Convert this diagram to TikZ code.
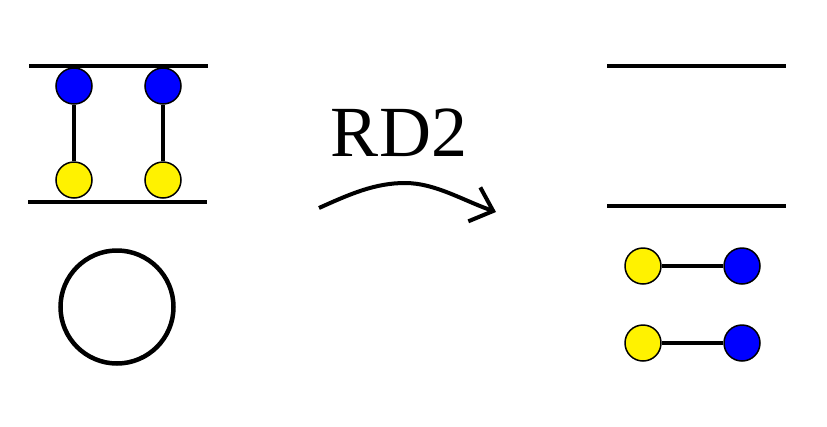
\documentclass[tikz,border=0pt]{standalone}
\usepackage{fontspec}
\setmainfont{Liberation Serif}
\usetikzlibrary{arrows.meta}

\begin{document}
\begin{tikzpicture}[
  x=1pt, y=-1pt,
  bead/.style={
    circle,
    draw,
    line width=1.5pt,
    minimum size=36pt,
    inner sep=0pt
  },
  up/.style={bead, fill=blue},
  down/.style={bead, fill=yellow},
  plate/.style={line width=4.5pt},
  link/.style={line width=4pt},
  arrow/.style={-{Straight Barb[length=20pt, width=36pt, line width=4pt]}, line width=4pt}
]
\useasboundingbox (0,0) rectangle (827,426);
% left: before
\coordinate (lt1) at (29,66);
\coordinate (lt2) at (208,66);
\coordinate (lb1) at (28,202);
\coordinate (lb2) at (207,202);
\draw[plate] (lt1) -- (lt2);
\draw[plate] (lb1) -- (lb2);
\node[up] (a1) at (74,86) {};
\node[up] (a2) at (163,86) {};
\node[down] (b1) at (74,180) {};
\node[down] (b2) at (163,180) {};
\draw[link] (a1) -- (b1);
\draw[link] (a2) -- (b2);
\node[circle, draw, line width=4.5pt, minimum size=113pt, inner sep=0pt] (ring) at (117,307) {};
% transition
\node[font=\fontsize{72}{72}\selectfont, inner sep=0pt] (label) at (399,133) {RD2};
\coordinate (s) at (319,208);
\coordinate (top) at (405,183);
\coordinate (e) at (496,212);
\draw[arrow] (s) .. controls (350,194) and (375,183) .. (top)
  .. controls (435,183) and (462,200) .. (e);
% right: after
\coordinate (rt1) at (607,66);
\coordinate (rt2) at (786,66);
\coordinate (rb1) at (607,206);
\coordinate (rb2) at (786,206);
\draw[plate] (rt1) -- (rt2);
\draw[plate] (rb1) -- (rb2);
\node[down] (c1) at (643,266) {};
\node[up] (d1) at (742,266) {};
\node[down] (c2) at (643,343) {};
\node[up] (d2) at (742,343) {};
\draw[link] (c1) -- (d1);
\draw[link] (c2) -- (d2);
\end{tikzpicture}
\end{document}
